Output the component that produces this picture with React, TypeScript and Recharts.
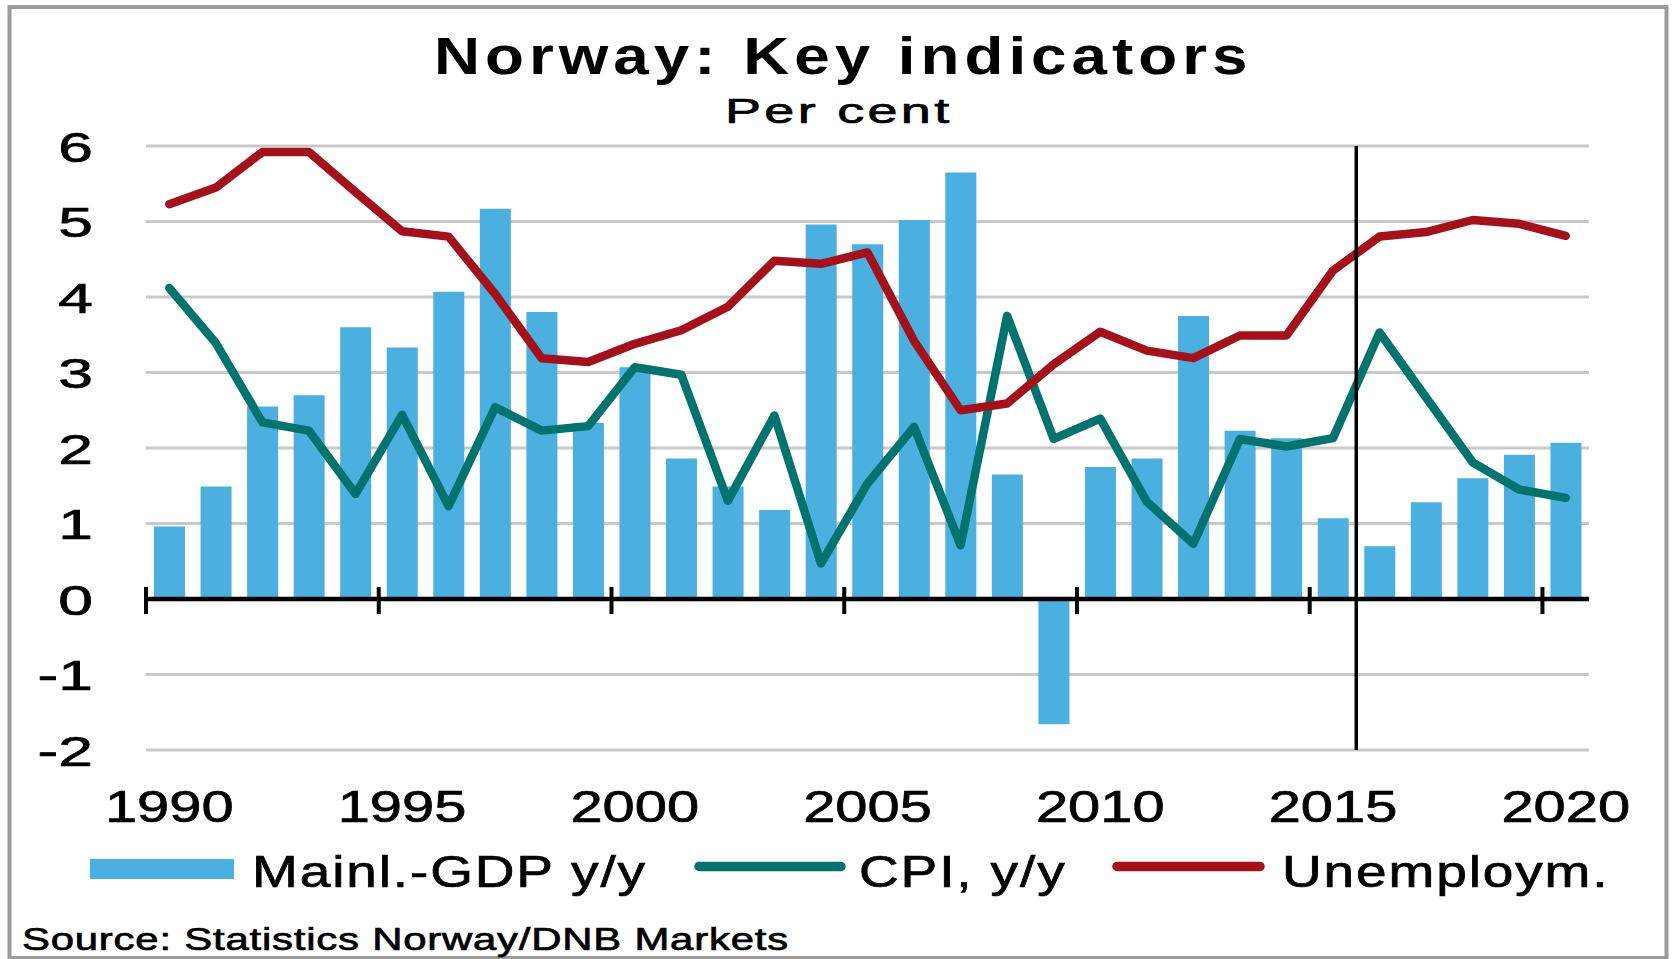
import {
  Bar, CartesianGrid, ComposedChart, Legend, Line,
  ReferenceLine, XAxis, YAxis,
} from 'recharts';

const YEARS = [
  1990, 1991, 1992, 1993, 1994, 1995, 1996, 1997, 1998, 1999,
  2000, 2001, 2002, 2003, 2004, 2005, 2006, 2007, 2008, 2009,
  2010, 2011, 2012, 2013, 2014, 2015, 2016, 2017, 2018, 2019, 2020,
];
const GDP_MAINLAND = [
  0.96, 1.49, 2.55, 2.7, 3.6, 3.33, 4.07, 5.17, 3.8, 2.33,
  3.07, 1.86, 1.49, 1.18, 4.96, 4.7, 5.02, 5.65, 1.65, -1.66,
  1.75, 1.86, 3.75, 2.23, 2.13, 1.07, 0.7, 1.28, 1.6, 1.91, 2.07,
];
const CPI = [
  4.12, 3.39, 2.34, 2.23, 1.39, 2.44, 1.23, 2.54, 2.23, 2.29,
  3.07, 2.97, 1.3, 2.43, 0.47, 1.53, 2.28, 0.71, 3.75, 2.12,
  2.39, 1.29, 0.73, 2.12, 2.02, 2.13, 3.53, 2.67, 1.81, 1.45, 1.34,
];
const UNEMPLOYMENT = [
  5.23, 5.45, 5.92, 5.92, 5.39, 4.87, 4.8, 4.04, 3.19, 3.14,
  3.38, 3.56, 3.87, 4.48, 4.44, 4.59, 3.42, 2.5, 2.59, 3.11,
  3.54, 3.29, 3.19, 3.49, 3.49, 4.35, 4.8, 4.86, 5.02, 4.97, 4.81,
];
const Y_TICKS = [-2, -1, 0, 1, 2, 3, 4, 5, 6];
const Y_MIN = -2;
const Y_MAX = 6;
const LABEL_STEP = 5;
const FORECAST_START = 2016;

const GDP_NAME = 'Mainl.-GDP y/y';
const CPI_NAME = 'CPI, y/y';
const UNEMP_NAME = 'Unemploym.';
const LEGEND_ORDER = [GDP_NAME, CPI_NAME, UNEMP_NAME];

const TITLE = 'Norway: Key indicators';
const SUBTITLE = 'Per cent';
const SOURCE = 'Source: Statistics Norway/DNB Markets';

const W = 1672;
const H = 959;
const PLOT = { left: 146, right: 1589, top: 146, bottom: 750 };
const FONT = '"Liberation Sans", Arial, Helvetica, sans-serif';
const BLUE = '#4bb0df';
const TEAL = '#00736f';
const RED = '#a3121b';
// a thin outline makes the upscaled regular text as heavy as in the original
const HEAVY = { stroke: '#000', strokeWidth: 0.7 };

const data = YEARS.map((year, i) => ({
  year,
  gdp: GDP_MAINLAND[i],
  cpi: CPI[i],
  unemp: UNEMPLOYMENT[i],
}));

const bandW = (PLOT.right - PLOT.left) / YEARS.length;
const zeroY = PLOT.top + ((Y_MAX - 0) / (Y_MAX - Y_MIN)) * (PLOT.bottom - PLOT.top);

function YearTick({ x, y, payload }: any) {
  const year = Number(payload.value);
  if (year % LABEL_STEP !== 0) return null;
  const bx = x - bandW / 2;
  return (
    <g>
      <line x1={bx} x2={bx} y1={zeroY - 12} y2={zeroY + 15} stroke="#000" strokeWidth={4} />
      <text
        transform={`translate(${x},${y + 72}) scale(1.3,1)`}
        textAnchor="middle"
        fontSize={44.5}
        fontFamily={FONT}
        fill="#000"
        {...HEAVY}
      >
        {year}
      </text>
    </g>
  );
}

function ValueTick({ x, y, payload }: any) {
  return (
    <text
      transform={`translate(${x},${y}) scale(1.45,1)`}
      textAnchor="end"
      dy={15.5}
      fontSize={43}
      fontFamily={FONT}
      fill="#000"
      {...HEAVY}
    >
      {payload.value}
    </text>
  );
}

// legend item placement: mark start/end and text start
const LEGEND_SLOTS = [
  { x0: 90, x1: 234, tx: 252 },
  { x0: 699, x1: 841, tx: 859 },
  { x0: 1117, x1: 1260, tx: 1282 },
];

function LegendContent({ payload }: any) {
  return (
    <svg width={W} height={70} style={{ display: 'block' }}>
      {(payload || []).map((entry: any) => {
        const slot = LEGEND_SLOTS[LEGEND_ORDER.indexOf(entry.value)];
        if (!slot) return null;
        return (
          <g key={entry.value}>
            {entry.type === 'rect' ? (
              <rect x={slot.x0} y={29} width={slot.x1 - slot.x0} height={20} fill={entry.color} />
            ) : (
              <line
                x1={slot.x0} x2={slot.x1} y1={36.5} y2={36.5}
                stroke={entry.color} strokeWidth={9.5} strokeLinecap="round"
              />
            )}
            <text
              transform={`translate(${slot.tx},57) scale(1.25,1)`}
              fontSize={44}
              fontFamily={FONT}
              fill="#000"
              {...HEAVY}
              style={{ letterSpacing: '1.5px' }}
            >
              {entry.value}
            </text>
          </g>
        );
      })}
    </svg>
  );
}

export default function App() {
  return (
    <div style={{ position: 'absolute', left: 0, top: 0, width: W, height: H, background: '#fff' }}>
      <ComposedChart
        width={W}
        height={H}
        data={data}
        margin={{ top: PLOT.top, right: W - PLOT.right, left: PLOT.left - 100, bottom: H - PLOT.bottom - 100 }}
      >
        <CartesianGrid vertical={false} stroke="#c9c9c9" strokeWidth={3} />
        <XAxis
          dataKey="year"
          type="category"
          interval={0}
          height={100}
          axisLine={false}
          tickLine={false}
          tickSize={0}
          tickMargin={0}
          tick={<YearTick />}
        />
        <YAxis
          domain={[Y_MIN, Y_MAX]}
          ticks={Y_TICKS}
          width={100}
          axisLine={false}
          tickLine={false}
          tickSize={0}
          tickMargin={53}
          tick={<ValueTick />}
        />
        <Bar dataKey="gdp" name={GDP_NAME} fill={BLUE} barSize={31} legendType="rect" isAnimationActive={false} />
        <Line
          dataKey="cpi" name={CPI_NAME} type="linear" stroke={TEAL} strokeWidth={8.5}
          strokeLinejoin="round" strokeLinecap="round" dot={false} activeDot={false}
          legendType="line" isAnimationActive={false}
        />
        <Line
          dataKey="unemp" name={UNEMP_NAME} type="linear" stroke={RED} strokeWidth={8.5}
          strokeLinejoin="round" strokeLinecap="round" dot={false} activeDot={false}
          legendType="line" isAnimationActive={false}
        />
        <ReferenceLine y={0} stroke="#000" strokeWidth={4.5} />
        <ReferenceLine x={FORECAST_START} position="start" stroke="#000" strokeWidth={3.5} />
        <Legend
          layout="horizontal"
          verticalAlign="middle"
          align="center"
          wrapperStyle={{ top: 830, left: 0, width: W, height: 70 }}
          content={<LegendContent />}
        />
      </ComposedChart>
      <svg
        width={W}
        height={H}
        style={{ position: 'absolute', left: 0, top: 0, pointerEvents: 'none' }}
      >
        <rect x={9.5} y={7} width={1657} height={951} fill="none" stroke="#9b9b9b" strokeWidth={4} />
        <text
          transform="translate(434,74) scale(1.25,1)"
          fontSize={51} fontWeight="bold" fontFamily={FONT} fill="#000"
          style={{ letterSpacing: '4px' }}
        >
          {TITLE}
        </text>
        <text
          transform="translate(725,123) scale(1.5,1)"
          fontSize={36} fontFamily={FONT} fill="#000"
          {...HEAVY}
          style={{ letterSpacing: '2.2px' }}
        >
          {SUBTITLE}
        </text>
        <text
          transform="translate(22,950) scale(1.35,1)"
          fontSize={31} fontFamily={FONT} fill="#000"
          {...HEAVY}
          style={{ letterSpacing: '0.6px' }}
        >
          {SOURCE}
        </text>
      </svg>
    </div>
  );
}
